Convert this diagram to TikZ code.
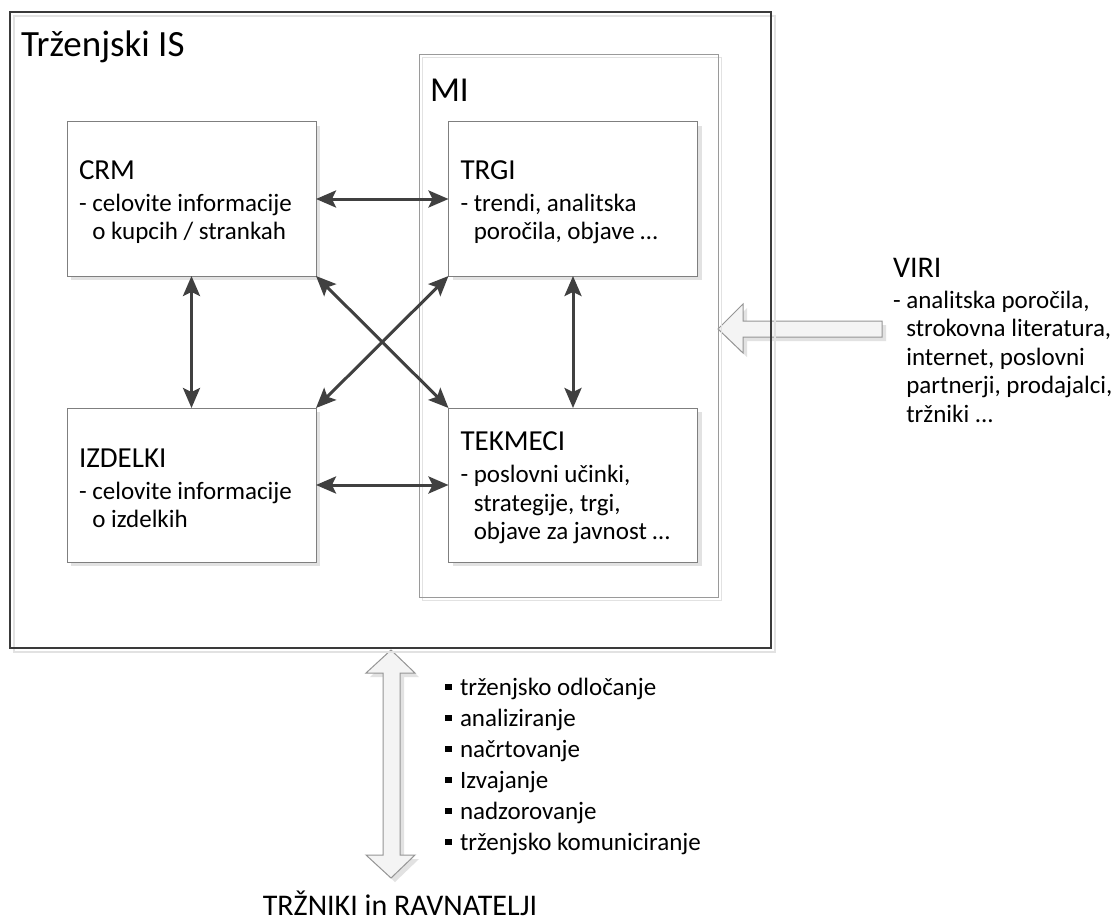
\documentclass[tikz,border=0pt]{standalone}
\usepackage{fontspec}
\setmainfont{Carlito}
\usetikzlibrary{arrows.meta,shadows}
\definecolor{arrowc}{HTML}{404040}
\definecolor{boxc}{HTML}{7F7F7F}
\definecolor{framec}{HTML}{3A3A3A}
\definecolor{mic}{HTML}{9A9A9A}
\definecolor{shadowc}{HTML}{E2E2E2}
\definecolor{blockfill}{HTML}{F4F4F4}
\definecolor{blockdraw}{HTML}{959595}
\newcommand\myBody{\fontsize{25}{28.5}\selectfont}
\newcommand\myHead[1]{{\fontsize{29}{32}\selectfont\rule{0pt}{25pt}#1}}
\newcommand\myBul{\rule[5pt]{6.5pt}{6.5pt}\hspace{8.5pt}}
\begin{document}
\begin{tikzpicture}[x=1pt,y=-1pt,
  mbox/.style={draw=boxc, line width=1pt, fill=white, text width=225pt,
    inner xsep=12pt, inner ysep=0pt, minimum height=154pt, align=flush left,
    outer sep=0pt, font=\myBody,
    drop shadow={shadow xshift=4pt, shadow yshift=-4pt, fill=shadowc, opacity=1}},
  frame/.style={draw=framec, line width=2.5pt, inner sep=0pt, outer sep=0pt},
  miframe/.style={draw=mic, line width=1pt, inner sep=0pt, outer sep=0pt},
  conn/.style={draw=arrowc, line width=3pt,
    {Stealth[length=20pt,width=17pt,inset=4pt]}-{Stealth[length=20pt,width=17pt,inset=4pt]}},
  blockarrow/.style={fill=blockfill, draw=blockdraw, line width=1pt, line join=miter},
  blockshadow/.style={fill=shadowc},
  txt/.style={inner sep=0pt, outer sep=0pt, anchor=base west, align=left},
]
\useasboundingbox (0,0) rectangle (1113,923);
\fill[white] (0,0) rectangle (1113,923);

% VIRI block arrow
\fill[blockshadow, shift={(4,4)}] (718,329) -- (743,304) -- (743,321) -- (882,321) -- (882,337) -- (743,337) -- (743,353) -- cycle;
\filldraw[blockarrow] (718,329) -- (743,304) -- (743,321) -- (882,321) -- (882,337) -- (743,337) -- (743,353) -- cycle;

% vertical double block arrow
\fill[blockshadow, shift={(4,4)}] (391,650) -- (415,673) -- (400,673) -- (400,855) -- (415,855) -- (391,878) -- (366,855) -- (383,855) -- (383,673) -- (366,673) -- cycle;
\filldraw[blockarrow] (391,650) -- (415,673) -- (400,673) -- (400,855) -- (415,855) -- (391,878) -- (366,855) -- (383,855) -- (383,673) -- (366,673) -- cycle;

% frame shadows
\coordinate (isnw) at (10,12);
\coordinate (isse) at (771,648);
\coordinate (minw) at (419,55);
\coordinate (mise) at (718,597);
\draw[shadowc, line width=2pt] ([shift={(4,4)}]isnw) rectangle ([shift={(4,4)}]isse);
\draw[shadowc, line width=1pt] ([shift={(3,3)}]minw) rectangle ([shift={(3,3)}]mise);

% frames
\node[frame, minimum width=761pt, minimum height=636pt] (is) at (390.5,330) {};
\node[miframe, minimum width=299pt, minimum height=542pt] (mi) at (568.5,326) {};

% titles
\node[txt, font=\fontsize{37}{41}\selectfont] (istitle) at (21,57) {Trženjski IS};
\node[txt, font=\fontsize{35}{39}\selectfont] (mititle) at (430,102) {MI};

% boxes
\node[mbox] (crm) at (191.5,199) {\myHead{CRM}\\[3.5pt] - celovite informacije\\ \hphantom{- }o kupcih / strankah};
\node[mbox] (trgi) at (573,199) {\myHead{TRGI}\\[3.5pt] - trendi, analitska\\ \hphantom{- }poročila, objave \ldots};
\node[mbox] (izd) at (191.5,485) {\myHead{IZDELKI}\\[3.5pt] - celovite informacije\\ \hphantom{- }o izdelkih};
\node[mbox] (tek) at (573,485) {\myHead{TEKMECI}\\[3.5pt] - poslovni učinki,\\ \hphantom{- }strategije, trgi,\\ \hphantom{- }objave za javnost \ldots};

% connectors
\draw[conn] (crm) -- (trgi);
\draw[conn] (izd) -- (tek);
\draw[conn] (crm) -- (izd);
\draw[conn] (trgi) -- (tek);
\draw[conn] (crm.south east) -- (tek.north west);
\draw[conn] (izd.north east) -- (trgi.south west);

% VIRI text (anchored at baseline of last line)
\node[txt, font=\myBody] (viri) at (893,422) {{\fontsize{30}{33}\selectfont VIRI}\\[2.5pt]
 - analitska poročila,\\ \hphantom{- }strokovna literatura,\\ \hphantom{- }internet, poslovni\\
 \hphantom{- }partnerji, prodajalci,\\ \hphantom{- }tržniki ...};

% activities list (anchored at baseline of last line)
\node[txt, font=\fontsize{25}{31}\selectfont] (acts) at (445,850) {\myBul trženjsko odločanje\\ \myBul analiziranje\\ \myBul načrtovanje\\ \myBul Izvajanje\\ \myBul nadzorovanje\\ \myBul trženjsko komuniciranje};

% bottom label
\node[inner sep=0pt, anchor=base, font=\fontsize{30}{33}\selectfont] (users) at (400,915) {TRŽNIKI in RAVNATELJI};
\end{tikzpicture}
\end{document}
